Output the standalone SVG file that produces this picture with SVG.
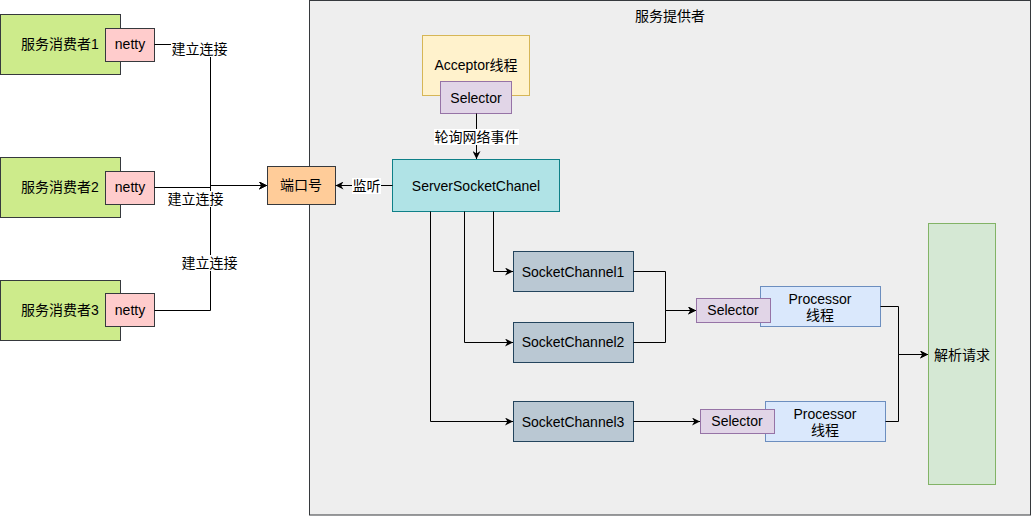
<svg xmlns="http://www.w3.org/2000/svg" width="1032" height="516" viewBox="0 0 1032 516">
<style>
text{font-family:"Liberation Sans","Noto Sans CJK SC",sans-serif;font-size:14px;fill:#000;text-anchor:middle}
.box{stroke-width:1}
.consumer{fill:#cdeb8b;stroke:#36393d}
.netty{fill:#ffcccc;stroke:#36393d}
.port{fill:#ffcc99;stroke:#36393d}
.container{fill:#eeeeee;stroke:#36393d}
.acceptor{fill:#fff2cc;stroke:#d6b656}
.selector{fill:#e1d5e7;stroke:#9673a6}
.ssc{fill:#b0e3e6;stroke:#0e8088}
.sc{fill:#bac8d3;stroke:#23445d}
.proc{fill:#dae8fc;stroke:#6c8ebf}
.parse{fill:#d5e8d4;stroke:#82b366}
.edge{fill:none;stroke:#000;stroke-width:1}
.lblbg{fill:#ffffff}
</style>
<defs>
<marker id="arr" viewBox="0 0 10 10" refX="10" refY="5" markerWidth="8" markerHeight="8" markerUnits="userSpaceOnUse" orient="auto">
<path d="M0,0 L10,5 L0,10 L3,5 Z" fill="#000"/>
</marker>
</defs>

<g id="provider">
<rect class="container" x="309.5" y="0.5" width="721" height="514.5"/>
<text x="670" y="21">服务提供者</text>
</g>

<g id="consumer1">
<rect class="consumer" x="0.5" y="14.5" width="120" height="60"/>
<text x="60" y="49">服务消费者1</text>
</g>
<g id="netty1">
<rect class="netty" x="105.5" y="28.5" width="49" height="33"/>
<text x="130" y="49">netty</text>
</g>
<g id="consumer2">
<rect class="consumer" x="0.5" y="157.5" width="120" height="60"/>
<text x="60" y="192">服务消费者2</text>
</g>
<g id="netty2">
<rect class="netty" x="105.5" y="171.5" width="49" height="33"/>
<text x="130" y="192">netty</text>
</g>
<g id="consumer3">
<rect class="consumer" x="0.5" y="280.5" width="120" height="60"/>
<text x="60" y="315">服务消费者3</text>
</g>
<g id="netty3">
<rect class="netty" x="105.5" y="293.5" width="49" height="33"/>
<text x="130" y="315">netty</text>
</g>

<g id="port">
<rect class="port" x="267.5" y="166.5" width="68" height="38"/>
<text x="301" y="190">端口号</text>
</g>

<g id="acceptor">
<rect class="acceptor" x="422.5" y="35.5" width="107" height="60"/>
<text x="476" y="70">Acceptor线程</text>
</g>
<g id="acceptorSelector">
<rect class="selector" x="440.5" y="81.5" width="71" height="32"/>
<text x="476" y="103">Selector</text>
</g>

<g id="serverSocketChanel">
<rect class="ssc" x="392.5" y="159.5" width="167" height="52"/>
<text x="476" y="191">ServerSocketChanel</text>
</g>

<g id="socketChannel1">
<rect class="sc" x="513.5" y="251.5" width="120" height="40"/>
<text x="573" y="277">SocketChannel1</text>
</g>
<g id="socketChannel2">
<rect class="sc" x="513.5" y="322.5" width="120" height="40"/>
<text x="573" y="347">SocketChannel2</text>
</g>
<g id="socketChannel3">
<rect class="sc" x="513.5" y="401.5" width="120" height="40"/>
<text x="573" y="427">SocketChannel3</text>
</g>

<g id="processor1">
<rect class="proc" x="760.5" y="286.5" width="120" height="40"/>
<text x="820" y="304">Processor</text>
<text x="820" y="320">线程</text>
</g>
<g id="selector1">
<rect class="selector" x="696.5" y="298.5" width="74" height="24"/>
<text x="733" y="315">Selector</text>
</g>
<g id="processor2">
<rect class="proc" x="765.5" y="401.5" width="120" height="40"/>
<text x="825" y="419">Processor</text>
<text x="825" y="435">线程</text>
</g>
<g id="selector2">
<rect class="selector" x="700.5" y="409.5" width="74" height="24"/>
<text x="737" y="426">Selector</text>
</g>

<g id="parseRequest">
<rect class="parse" x="928.5" y="223.5" width="67" height="261"/>
<text x="962" y="360">解析请求</text>
</g>

<g id="connectors">
<path class="edge" d="M154.5,44.5 H210.5 V185.5 H267" marker-end="url(#arr)"/>
<path class="edge" d="M154.5,187.5 H210.5 V185.5 H267" marker-end="url(#arr)"/>
<path class="edge" d="M154.5,310.5 H210.5 V185.5 H267" marker-end="url(#arr)"/>
<rect class="lblbg" x="171" y="41" width="57" height="16"/>
<text x="199.5" y="54">建立连接</text>
<rect class="lblbg" x="168" y="191" width="56" height="16"/>
<text x="195.5" y="204">建立连接</text>
<rect class="lblbg" x="182" y="255" width="56" height="16"/>
<text x="209.5" y="268">建立连接</text>

<path class="edge" d="M392.5,185.5 H335.5" marker-end="url(#arr)"/>
<rect class="lblbg" x="352" y="178" width="29" height="16"/>
<text x="366.5" y="191">监听</text>

<path class="edge" d="M476.5,113.5 V159" marker-end="url(#arr)"/>
<rect class="lblbg" x="434" y="129" width="85" height="16"/>
<text x="476.5" y="142">轮询网络事件</text>

<path class="edge" d="M493.5,211.5 V271.5 H513" marker-end="url(#arr)"/>
<path class="edge" d="M464.5,211.5 V342.5 H513" marker-end="url(#arr)"/>
<path class="edge" d="M430.5,211.5 V421.5 H513" marker-end="url(#arr)"/>

<path class="edge" d="M633.5,271.5 H665.5 V310.5 H696" marker-end="url(#arr)"/>
<path class="edge" d="M633.5,342.5 H665.5 V310.5 H696" marker-end="url(#arr)"/>
<path class="edge" d="M633.5,421.5 H700" marker-end="url(#arr)"/>

<path class="edge" d="M880.5,306.5 H898.5 V354.5 H928" marker-end="url(#arr)"/>
<path class="edge" d="M885.5,421.5 H898.5 V354.5 H928" marker-end="url(#arr)"/>
</g>
</svg>
